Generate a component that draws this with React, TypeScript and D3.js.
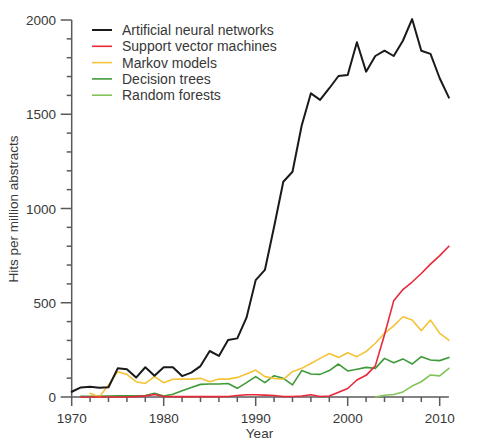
import React from "react";
import * as d3 from "d3";

const annYears = d3.range(1970, 2012);
const annValues = [28, 51, 55, 49, 52, 152, 147, 103, 158, 113, 158, 158, 111, 129, 164, 244, 218, 302, 311, 421, 620, 674, 903, 1142, 1195, 1440, 1611, 1576, 1638, 1703, 1708, 1882, 1726, 1809, 1837, 1809, 1890, 2005, 1837, 1820, 1691, 1588];

const svmYears = d3.range(1971, 2012);
const svmValues = [0, 0, 0, 0, 0, 0, 2, 6, 13, 3, 2, 2, 2, 2, 2, 2, 3, 8, 12, 12, 10, 8, 3, 3, 5, 12, 3, 5, 25, 45, 90, 115, 165, 330, 510, 570, 610, 655, 705, 750, 800];

const markovYears = d3.range(1972, 2012);
const markovValues = [20, 0, 64, 134, 120, 81, 72, 108, 76, 94, 95, 95, 99, 81, 95, 95, 104, 122, 143, 108, 99, 94, 134, 152, 178, 205, 231, 210, 235, 214, 241, 285, 338, 377, 426, 408, 352, 408, 338, 302];

const treeYears = d3.range(1971, 2012);
const treeValues = [4, 4, 5, 5, 6, 6, 6, 8, 20, 5, 15, 33, 51, 67, 69, 69, 72, 46, 76, 108, 76, 113, 99, 64, 140, 122, 120, 140, 175, 138, 147, 157, 152, 205, 182, 202, 175, 214, 196, 193, 210];

const forestYears = d3.range(2003, 2012);
const forestValues = [0, 9, 13, 27, 58, 81, 117, 112, 152];

const seriesNames = ["Artificial neural networks", "Support vector machines", "Markov models", "Decision trees", "Random forests"];
const seriesColors = ["#1a1a1a", "#e8283a", "#f5c338", "#3f9a3a", "#82c45a"];
const seriesWidths = [2, 1.6, 1.6, 1.6, 1.6];
const seriesYears = [annYears, svmYears, markovYears, treeYears, forestYears];
const seriesValues = [annValues, svmValues, markovValues, treeValues, forestValues];

const xMajor = [1970, 1980, 1990, 2000, 2010];
const xMinor = d3.range(1970, 2011, 2);
const yMajor = [0, 500, 1000, 1500, 2000];
const yMinor = d3.range(0, 2001, 100);

const W = 484;
const H = 440;
const FONT = "'Liberation Sans', Arial, Helvetica, sans-serif";

export default function App() {
  const x = d3.scaleLinear().domain([1970, 2010]).range([71.7, 439.7]);
  const y = d3.scaleLinear().domain([0, 2000]).range([397, 20]);
  const axisColor = "#5a5a5a";
  const textColor = "#383838";

  const lines = seriesValues.map((vals, i) => {
    const pts: [number, number][] = vals.map((v, j) => [seriesYears[i][j], v]);
    return d3
      .line<[number, number]>()
      .x((d) => x(d[0]))
      .y((d) => y(d[1]))(pts) as string;
  });

  const order = [3, 4, 2, 1, 0];

  return (
    <svg
      width={W}
      height={H}
      style={{ position: "absolute", left: 0, top: 0, background: "#fff" }}
      fontFamily={FONT}
    >
      <rect width={W} height={H} fill="#fff" />
      <g stroke={axisColor} strokeWidth={1.5} fill="none">
        <line x1={x(1970)} x2={x(2011)} y1={y(0)} y2={y(0)} />
        <line x1={x(1970)} x2={x(1970)} y1={y(0)} y2={y(2000)} />
        {xMinor.map((t) => (
          <line key={"xm" + t} x1={x(t)} x2={x(t)} y1={y(0)} y2={y(0) + (xMajor.includes(t) ? 9 : 5)} />
        ))}
        {yMinor.map((t) => (
          <line key={"ym" + t} x1={x(1970)} x2={x(1970) - (yMajor.includes(t) ? 11 : 5)} y1={y(t)} y2={y(t)} />
        ))}
      </g>
      <g fill={textColor} fontSize={13.5}>
        {xMajor.map((t) => (
          <text key={"xl" + t} x={x(t)} y={422.5} textAnchor="middle">
            {t}
          </text>
        ))}
        {yMajor.map((t) => (
          <text key={"yl" + t} x={56} y={y(t) + 5} textAnchor="end">
            {t}
          </text>
        ))}
        <text x={259.5} y={437.5} textAnchor="middle">
          Year
        </text>
        <text transform={`translate(18,209) rotate(-90)`} textAnchor="middle">
          Hits per million abstracts
        </text>
      </g>
      <g fill="none" strokeLinejoin="round" strokeLinecap="round">
        {order.map((i) => (
          <path key={"s" + i} d={lines[i]} stroke={seriesColors[i]} strokeWidth={seriesWidths[i]} />
        ))}
      </g>
      <g fontSize={14} fill={textColor}>
        {seriesNames.map((n, i) => {
          const ly = 30 + i * 16.3;
          return (
            <g key={"lg" + i}>
              <line x1={92} x2={112} y1={ly} y2={ly} stroke={seriesColors[i]} strokeWidth={seriesWidths[i]} />
              <text x={122} y={ly + 5}>
                {n}
              </text>
            </g>
          );
        })}
      </g>
    </svg>
  );
}
